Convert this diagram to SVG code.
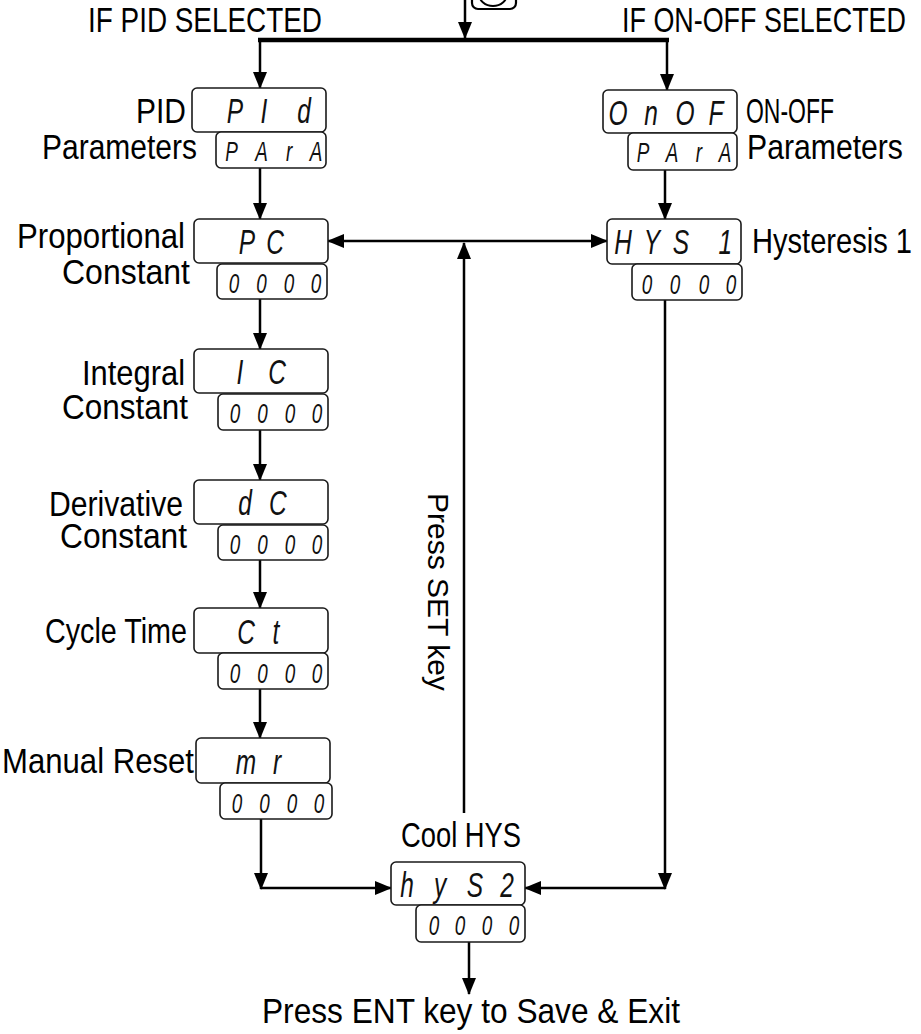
<svg xmlns="http://www.w3.org/2000/svg" width="921" height="1034" viewBox="0 0 921 1034">
<style>
.box{fill:#fff;stroke:#1a1a1a;stroke-width:1.6}
.lbl{font-family:"Liberation Sans",Arial,sans-serif;font-size:35px;fill:#000}
.seg{font-family:"Liberation Sans",Arial,sans-serif;font-style:italic;fill:#111;text-anchor:middle}
.big{font-size:35px}
.sm{font-size:27px}
.ln{fill:none;stroke:#000;stroke-width:2.5}
</style>
<defs>
<marker id="ah" viewBox="0 0 17 14" refX="16" refY="7" markerWidth="17" markerHeight="14" markerUnits="userSpaceOnUse" orient="auto-start-reverse">
<path d="M0,0 L17,7 L0,14 z" fill="#000"/>
</marker>
</defs>
<rect width="921" height="1034" fill="#fff"/>

<g id="key-icon">
<rect x="472" y="-22" width="44" height="31" rx="6" fill="none" stroke="#000" stroke-width="2.2"/>
<ellipse cx="493" cy="-6" rx="14" ry="12" fill="none" stroke="#000" stroke-width="2"/>
</g>

<g id="titles">
<text class="lbl" x="88" y="32" font-size="34" textLength="234" lengthAdjust="spacingAndGlyphs">IF PID SELECTED</text>
<text class="lbl" transform="translate(622 32) scale(0.8 1)" x="0" y="0" font-size="34" textLength="355" lengthAdjust="spacingAndGlyphs">IF ON-OFF SELECTED</text>
</g>

<g id="connectors">
<line class="ln" x1="465" y1="0" x2="465" y2="38" marker-end="url(#ah)"/>
<line x1="258" y1="40" x2="669" y2="40" stroke="#000" stroke-width="4.5"/>
<line class="ln" x1="260" y1="40" x2="260" y2="88" marker-end="url(#ah)"/>
<line class="ln" x1="667" y1="40" x2="667" y2="90" marker-end="url(#ah)"/>
<line class="ln" x1="260" y1="168" x2="260" y2="219" marker-end="url(#ah)"/>
<line class="ln" x1="260" y1="299" x2="260" y2="349" marker-end="url(#ah)"/>
<line class="ln" x1="260" y1="430" x2="260" y2="480" marker-end="url(#ah)"/>
<line class="ln" x1="260" y1="560" x2="260" y2="608" marker-end="url(#ah)"/>
<line class="ln" x1="260" y1="689" x2="260" y2="738" marker-end="url(#ah)"/>
<line class="ln" x1="261" y1="819" x2="261" y2="889" marker-end="url(#ah)"/>
<line class="ln" x1="261" y1="888" x2="391" y2="888" marker-end="url(#ah)"/>
<line class="ln" x1="665" y1="170" x2="665" y2="219" marker-end="url(#ah)"/>
<line class="ln" x1="665" y1="300" x2="665" y2="889" marker-end="url(#ah)"/>
<line class="ln" x1="665" y1="888" x2="525" y2="888" marker-end="url(#ah)"/>
<line class="ln" x1="328" y1="241" x2="607" y2="241" marker-start="url(#ah)" marker-end="url(#ah)"/>
<line class="ln" x1="464" y1="813" x2="464" y2="243" marker-end="url(#ah)"/>
<line class="ln" x1="469" y1="942" x2="469" y2="994" marker-end="url(#ah)"/>
<text x="428" y="493" transform="rotate(90 428 493)" style="font-family:'Liberation Sans',Arial,sans-serif;font-size:30px" fill="#000">Press SET key</text>
</g>

<g id="pid-para">
<rect class="box" x="192" y="88" width="134" height="44" rx="5"/>
<rect class="box" x="216" y="132" width="110" height="36" rx="5"/>
<text class="seg big" transform="scale(0.7 1)" x="335.7 377.1 434.3" y="123">PId</text>
<text class="seg sm" transform="scale(0.7 1)" x="330.7 373.6 412.9 451.4" y="161">PArA</text>
<text class="lbl" x="136" y="123" textLength="50" lengthAdjust="spacingAndGlyphs">PID</text>
<text class="lbl" x="42" y="159" textLength="155" lengthAdjust="spacingAndGlyphs">Parameters</text>
</g>

<g id="onoff-para">
<rect class="box" x="603" y="90" width="134" height="43" rx="5"/>
<rect class="box" x="628" y="133" width="109" height="37" rx="5"/>
<text class="seg big" transform="scale(0.7 1)" x="882.9 930 978.6 1022.9" y="125">OnOF</text>
<text class="seg sm" transform="scale(0.7 1)" x="918.6 960 998.6 1035.7" y="162">PArA</text>
<text class="lbl" x="746" y="123" textLength="88" lengthAdjust="spacingAndGlyphs">ON-OFF</text>
<text class="lbl" transform="translate(747 159) scale(0.85 1)" x="0" y="0" textLength="183.5" lengthAdjust="spacingAndGlyphs">Parameters</text>
</g>

<g id="pc">
<rect class="box" x="194" y="219" width="134" height="44" rx="5"/>
<rect class="box" x="217" y="264" width="110" height="35" rx="5"/>
<text class="seg big" transform="scale(0.7 1)" x="352.9 392.9" y="254">PC</text>
<text class="seg sm" transform="scale(0.7 1)" x="334.3 373.6 412.9 451.4" y="293">0000</text>
<text class="lbl" x="17" y="248" textLength="168" lengthAdjust="spacingAndGlyphs">Proportional</text>
<text class="lbl" x="62" y="284" textLength="128" lengthAdjust="spacingAndGlyphs">Constant</text>
</g>

<g id="hys1">
<rect class="box" x="607" y="219" width="134" height="45" rx="5"/>
<rect class="box" x="632" y="264" width="110" height="36" rx="5"/>
<text class="seg big" transform="scale(0.7 1)" x="890 931.4 972.9 1036" y="254">HYS1</text>
<text class="seg sm" transform="scale(0.7 1)" x="924.3 964.3 1005.7 1044.3" y="294">0000</text>
<text class="lbl" transform="translate(752 253) scale(0.83 1)" x="0" y="0" textLength="192.8" lengthAdjust="spacingAndGlyphs">Hysteresis 1</text>
</g>

<g id="ic">
<rect class="box" x="194" y="349" width="134" height="44" rx="5"/>
<rect class="box" x="218" y="394" width="110" height="36" rx="5"/>
<text class="seg big" transform="scale(0.7 1)" x="342.9 395.7" y="384">IC</text>
<text class="seg sm" transform="scale(0.7 1)" x="335.7 375 414.3 452.9" y="423">0000</text>
<text class="lbl" x="82" y="385" textLength="103" lengthAdjust="spacingAndGlyphs">Integral</text>
<text class="lbl" x="62" y="419" textLength="126" lengthAdjust="spacingAndGlyphs">Constant</text>
</g>

<g id="dc">
<rect class="box" x="194" y="480" width="134" height="44" rx="5"/>
<rect class="box" x="218" y="525" width="110" height="35" rx="5"/>
<text class="seg big" transform="scale(0.7 1)" x="350 397.1" y="515">dC</text>
<text class="seg sm" transform="scale(0.7 1)" x="335.7 375 414.3 452.9" y="554">0000</text>
<text class="lbl" x="49" y="516" textLength="134" lengthAdjust="spacingAndGlyphs">Derivative</text>
<text class="lbl" x="60" y="548" textLength="127" lengthAdjust="spacingAndGlyphs">Constant</text>
</g>

<g id="ct">
<rect class="box" x="194" y="608" width="134" height="45" rx="5"/>
<rect class="box" x="218" y="653" width="110" height="36" rx="5"/>
<text class="seg big" transform="scale(0.7 1)" x="351.4 394.3" y="644">Ct</text>
<text class="seg sm" transform="scale(0.7 1)" x="335.7 375 414.3 452.9" y="683">0000</text>
<text class="lbl" x="45" y="643" textLength="142" lengthAdjust="spacingAndGlyphs">Cycle Time</text>
</g>

<g id="mr">
<rect class="box" x="196" y="738" width="134" height="45" rx="5"/>
<rect class="box" x="220" y="783" width="112" height="36" rx="5"/>
<text class="seg big" transform="scale(0.7 1)" x="351.4 395.7" y="774">mr</text>
<text class="seg sm" transform="scale(0.7 1)" x="338.6 377.9 417.1 455.7" y="813">0000</text>
<text class="lbl" x="2" y="773" textLength="192" lengthAdjust="spacingAndGlyphs">Manual Reset</text>
</g>

<g id="hys2">
<rect class="box" x="391" y="862" width="134" height="43" rx="5"/>
<rect class="box" x="416" y="905" width="109" height="37" rx="5"/>
<text class="seg big" transform="scale(0.7 1)" x="581.4 628.6 678.6 724.3" y="897">hyS2</text>
<text class="seg sm" transform="scale(0.7 1)" x="620 657.1 695.7 734.3" y="935">0000</text>
<text class="lbl" x="401" y="847" textLength="120" lengthAdjust="spacingAndGlyphs">Cool HYS</text>
</g>

<g id="exit">
<text class="lbl" x="262" y="1023" font-size="36" textLength="418" lengthAdjust="spacingAndGlyphs">Press ENT key to Save &amp; Exit</text>
</g>
</svg>
